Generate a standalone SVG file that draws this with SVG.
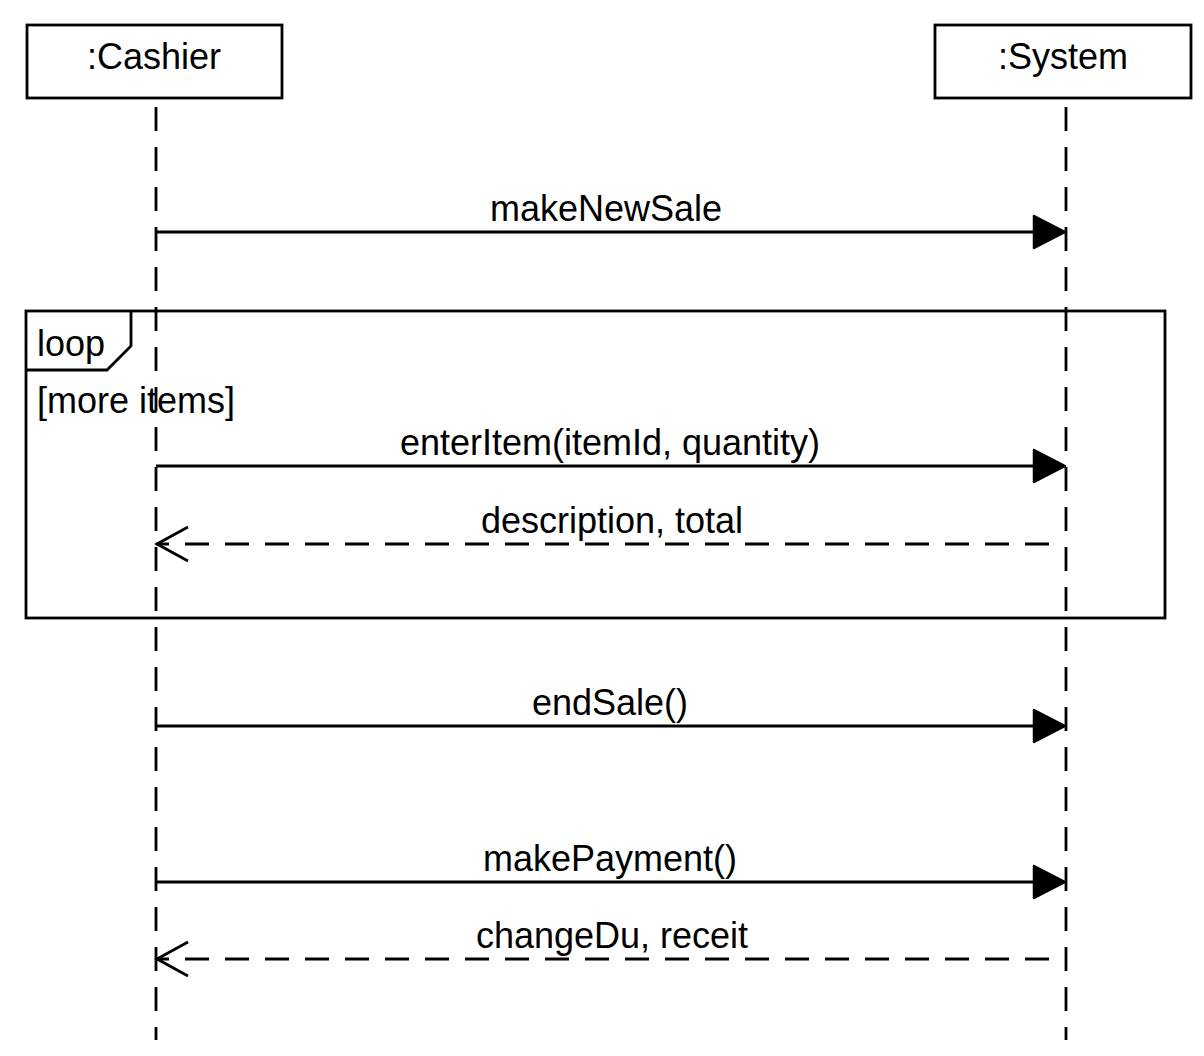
<svg xmlns="http://www.w3.org/2000/svg" width="1204" height="1056" viewBox="0 0 1204 1056">
<style>
text{font-family:"Liberation Sans",Arial,sans-serif;font-size:36px;fill:#000}
.c{text-anchor:middle}
.box{fill:#fff;stroke:#000;stroke-width:2.8}
.life{stroke:#000;stroke-width:2.8;stroke-dasharray:24 16;fill:none}
.msg{stroke:#000;stroke-width:2.8;fill:none}
.ret{stroke:#000;stroke-width:2.8;stroke-dasharray:24 16;fill:none}
.head{fill:#000;stroke:#000;stroke-width:2.5;stroke-linejoin:round}
.open{fill:none;stroke:#000;stroke-width:2.8}
.frame{fill:none;stroke:#000;stroke-width:2.8}
</style>
<rect width="1204" height="1056" fill="#fff"/>
<g id="loop-frame">
<rect class="frame" x="26" y="311" width="1139" height="307"/>
<path class="frame" d="M26,370 L107,370 L131,346 L131,311"/>
<text x="37" y="356">loop</text>
<text x="37" y="413">[more items]</text>
</g>
<g id="cashier">
<rect class="box" x="27" y="25" width="255" height="73"/>
<text class="c" x="154" y="69">:Cashier</text>
<line class="life" x1="156" y1="107" x2="156" y2="1040"/>
</g>
<g id="system">
<rect class="box" x="935" y="25" width="256" height="73"/>
<text class="c" x="1063" y="69">:System</text>
<line class="life" x1="1066" y1="107" x2="1066" y2="1040"/>
</g>
<g id="connectors">
<g id="m1">
<line class="msg" x1="156" y1="232" x2="1040" y2="232"/>
<polygon class="head" points="1034,216 1065,232 1034,248"/>
<text class="c" x="606" y="221">makeNewSale</text>
</g>
<g id="m2">
<line class="msg" x1="156" y1="466" x2="1040" y2="466"/>
<polygon class="head" points="1034,450 1065,466 1034,482"/>
<text class="c" x="610" y="455">enterItem(itemId, quantity)</text>
</g>
<g id="m3">
<line class="ret" x1="1049" y1="544" x2="156" y2="544"/>
<polyline class="open" points="188,527 157,544 188,561"/>
<text class="c" x="612" y="533">description, total</text>
</g>
<g id="m4">
<line class="msg" x1="156" y1="726" x2="1040" y2="726"/>
<polygon class="head" points="1034,710 1065,726 1034,742"/>
<text class="c" x="610" y="715">endSale()</text>
</g>
<g id="m5">
<line class="msg" x1="156" y1="882" x2="1040" y2="882"/>
<polygon class="head" points="1034,866 1065,882 1034,898"/>
<text class="c" x="610" y="871">makePayment()</text>
</g>
<g id="m6">
<line class="ret" x1="1049" y1="959" x2="156" y2="959"/>
<polyline class="open" points="188,942 157,959 188,976"/>
<text class="c" x="612" y="948">changeDu, receit</text>
</g>
</g>
</svg>
